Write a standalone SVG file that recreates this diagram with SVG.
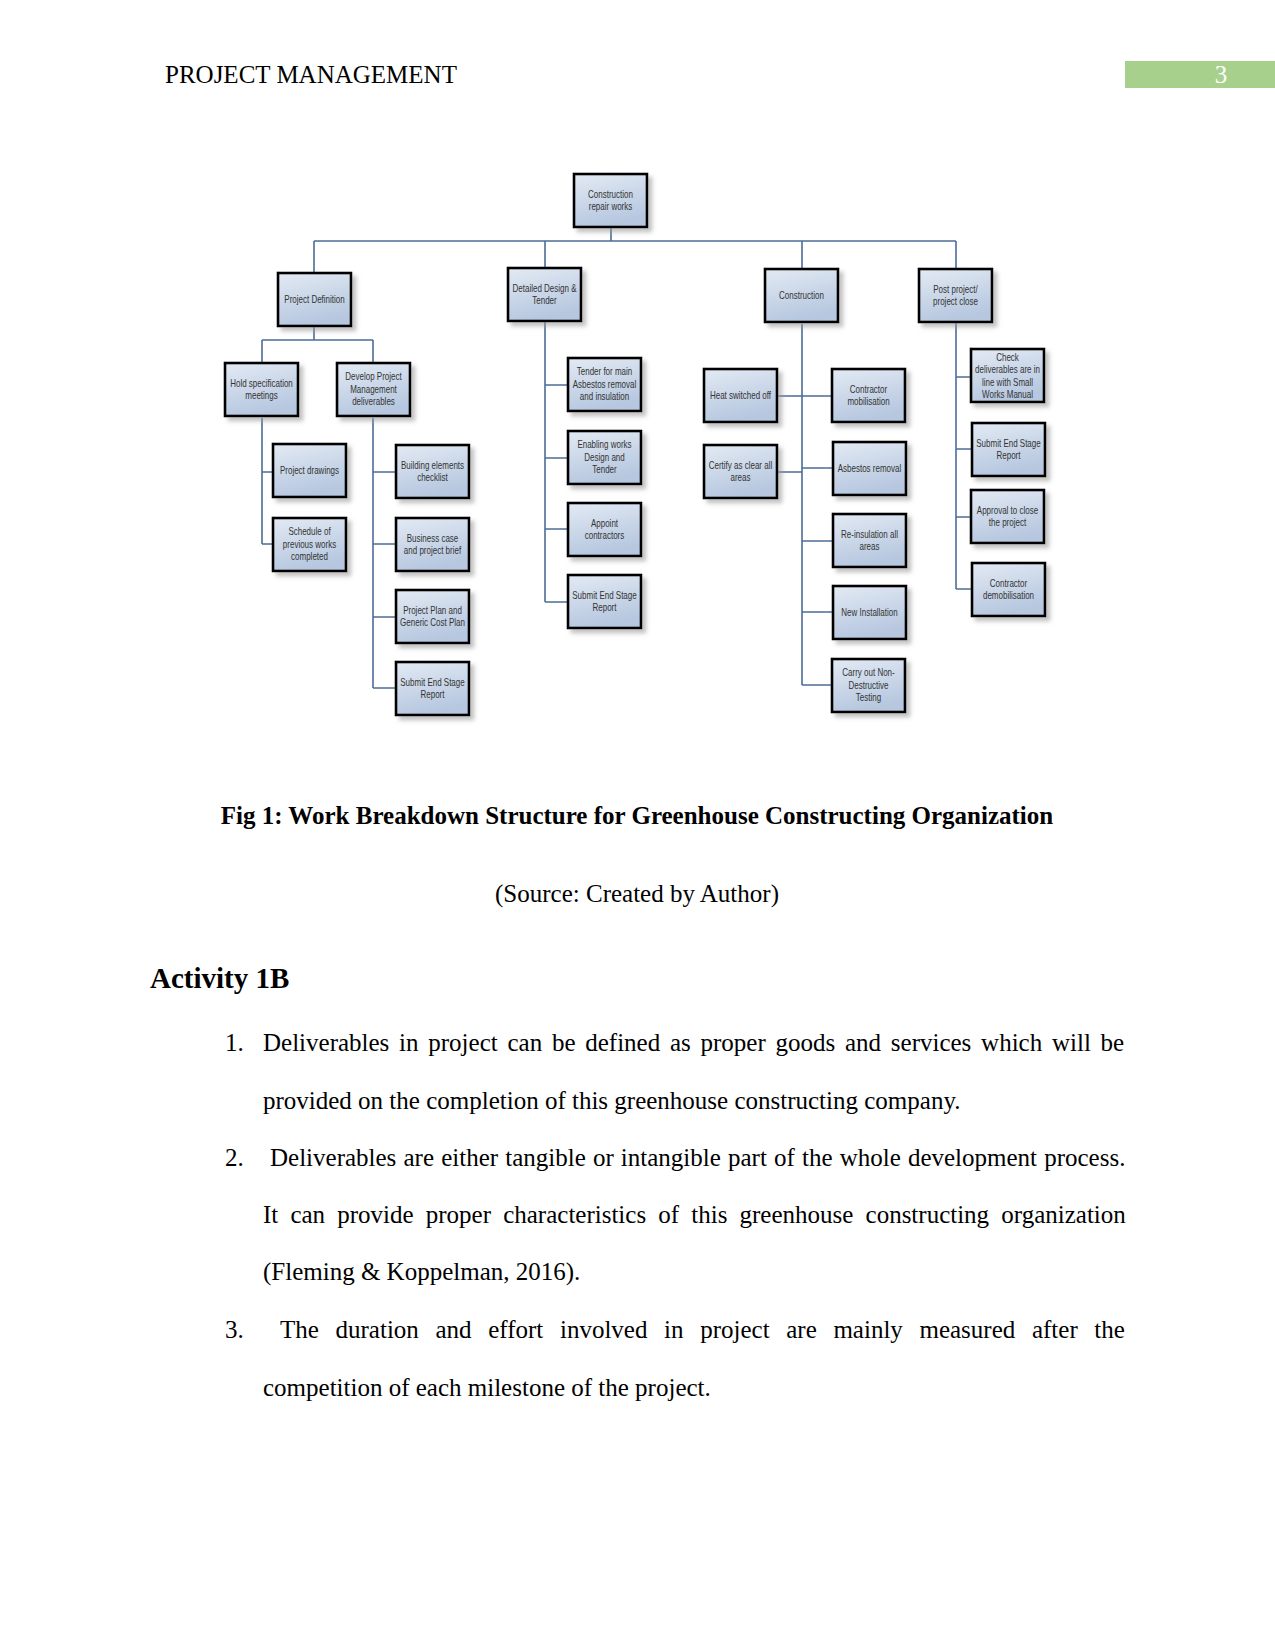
<svg xmlns="http://www.w3.org/2000/svg" width="1275" height="1650" viewBox="0 0 1275 1650">
<defs>
<linearGradient id="boxfill" x1="0" y1="0" x2="0.3" y2="1">
<stop offset="0" stop-color="#e3eaf4"/>
<stop offset="1" stop-color="#b6c7df"/>
</linearGradient>
<filter id="shadow" x="-20%" y="-20%" width="150%" height="150%">
<feDropShadow dx="4" dy="4" stdDeviation="2" flood-color="#9a9a9a" flood-opacity="0.6"/>
</filter>
<style>
.box{fill:url(#boxfill);stroke:#000;stroke-width:2.6;filter:url(#shadow);}
.lbl{font-family:"Liberation Sans",Arial,sans-serif;font-size:10px;fill:#333;text-anchor:middle;}
.con{fill:none;stroke:#4d6d96;stroke-width:1.6;}
.body{font-family:"Liberation Serif","Times New Roman",serif;font-size:25px;fill:#000;}
.bold{font-weight:bold;}
</style>
</defs>
<rect x="0" y="0" width="1275" height="1650" fill="#fff"/>
<text class="body" x="165" y="83">PROJECT MANAGEMENT</text>
<rect x="1125" y="61" width="150" height="27" fill="#a8d08d"/>
<text class="body" x="1221" y="83" style="fill:#fff" text-anchor="middle">3</text>

<g id="connectors">
<path class="con" d="M611 228V241M314 241H956M314 241V272M545 241V267M802 241V268M956 241V268"/>
<path class="con" d="M314 327V340M262 340H373M262 340V362M373 340V362"/>
<path class="con" d="M262 418V544M262 472H272M262 544H272"/>
<path class="con" d="M373 418V688M373 472H395M373 544H395M373 617H395M373 688H395"/>
<path class="con" d="M545 322V602M545 385H567M545 458H567M545 529H567M545 602H567"/>
<path class="con" d="M802 324V685M778 396H831M778 472H802M802 468H832M802 541H832M802 612H832M802 685H831"/>
<path class="con" d="M956 323V589M956 377H970M956 449H971M956 517H970M956 589H971"/>
</g>

<g id="n-root"><rect class="box" x="574" y="174" width="73" height="53"/><text class="lbl" transform="translate(610.5 0) scale(0.8 1)"><tspan x="0" y="197.75">Construction</tspan><tspan x="0" y="210.25">repair works</tspan></text></g>
<g id="n-projdef"><rect class="box" x="278" y="273" width="73" height="53"/><text class="lbl" transform="translate(314.5 0) scale(0.8 1)"><tspan x="0" y="303">Project Definition</tspan></text></g>
<g id="n-design"><rect class="box" x="508" y="268" width="73" height="53"/><text class="lbl" transform="translate(544.5 0) scale(0.8 1)"><tspan x="0" y="291.75">Detailed Design &amp;</tspan><tspan x="0" y="304.25">Tender</tspan></text></g>
<g id="n-construction"><rect class="box" x="765" y="269" width="73" height="53"/><text class="lbl" transform="translate(801.5 0) scale(0.8 1)"><tspan x="0" y="299">Construction</tspan></text></g>
<g id="n-post"><rect class="box" x="919" y="269" width="73" height="53"/><text class="lbl" transform="translate(955.5 0) scale(0.8 1)"><tspan x="0" y="292.75">Post project/</tspan><tspan x="0" y="305.25">project close</tspan></text></g>

<g id="n-hold"><rect class="box" x="225" y="363" width="73" height="53"/><text class="lbl" transform="translate(261.5 0) scale(0.8 1)"><tspan x="0" y="386.75">Hold specification</tspan><tspan x="0" y="399.25">meetings</tspan></text></g>
<g id="n-develop"><rect class="box" x="337" y="363" width="73" height="53"/><text class="lbl" transform="translate(373.5 0) scale(0.8 1)"><tspan x="0" y="380.5">Develop Project</tspan><tspan x="0" y="393">Management</tspan><tspan x="0" y="405.5">deliverables</tspan></text></g>
<g id="n-drawings"><rect class="box" x="273" y="444" width="73" height="53"/><text class="lbl" transform="translate(309.5 0) scale(0.8 1)"><tspan x="0" y="474">Project drawings</tspan></text></g>
<g id="n-schedule"><rect class="box" x="273" y="518" width="73" height="53"/><text class="lbl" transform="translate(309.5 0) scale(0.8 1)"><tspan x="0" y="535.5">Schedule of</tspan><tspan x="0" y="548">previous works</tspan><tspan x="0" y="560.5">completed</tspan></text></g>
<g id="n-building"><rect class="box" x="396" y="445" width="73" height="53"/><text class="lbl" transform="translate(432.5 0) scale(0.8 1)"><tspan x="0" y="468.75">Building elements</tspan><tspan x="0" y="481.25">checklist</tspan></text></g>
<g id="n-business"><rect class="box" x="396" y="518" width="73" height="53"/><text class="lbl" transform="translate(432.5 0) scale(0.8 1)"><tspan x="0" y="541.75">Business case</tspan><tspan x="0" y="554.25">and project brief</tspan></text></g>
<g id="n-plan"><rect class="box" x="396" y="590" width="73" height="53"/><text class="lbl" transform="translate(432.5 0) scale(0.8 1)"><tspan x="0" y="613.75">Project Plan and</tspan><tspan x="0" y="626.25">Generic Cost Plan</tspan></text></g>
<g id="n-submit1"><rect class="box" x="396" y="662" width="73" height="53"/><text class="lbl" transform="translate(432.5 0) scale(0.8 1)"><tspan x="0" y="685.75">Submit End Stage</tspan><tspan x="0" y="698.25">Report</tspan></text></g>

<g id="n-tender"><rect class="box" x="568" y="358" width="73" height="53"/><text class="lbl" transform="translate(604.5 0) scale(0.8 1)"><tspan x="0" y="375.5">Tender for main</tspan><tspan x="0" y="388">Asbestos removal</tspan><tspan x="0" y="400.5">and insulation</tspan></text></g>
<g id="n-enabling"><rect class="box" x="568" y="431" width="73" height="53"/><text class="lbl" transform="translate(604.5 0) scale(0.8 1)"><tspan x="0" y="448.5">Enabling works</tspan><tspan x="0" y="461">Design and</tspan><tspan x="0" y="473.5">Tender</tspan></text></g>
<g id="n-appoint"><rect class="box" x="568" y="503" width="73" height="53"/><text class="lbl" transform="translate(604.5 0) scale(0.8 1)"><tspan x="0" y="526.75">Appoint</tspan><tspan x="0" y="539.25">contractors</tspan></text></g>
<g id="n-submit2"><rect class="box" x="568" y="575" width="73" height="53"/><text class="lbl" transform="translate(604.5 0) scale(0.8 1)"><tspan x="0" y="598.75">Submit End Stage</tspan><tspan x="0" y="611.25">Report</tspan></text></g>

<g id="n-heat"><rect class="box" x="704" y="369" width="73" height="53"/><text class="lbl" transform="translate(740.5 0) scale(0.8 1)"><tspan x="0" y="399">Heat switched off</tspan></text></g>
<g id="n-certify"><rect class="box" x="704" y="445" width="73" height="53"/><text class="lbl" transform="translate(740.5 0) scale(0.8 1)"><tspan x="0" y="468.75">Certify as clear all</tspan><tspan x="0" y="481.25">areas</tspan></text></g>
<g id="n-mobilisation"><rect class="box" x="832" y="369" width="73" height="53"/><text class="lbl" transform="translate(868.5 0) scale(0.8 1)"><tspan x="0" y="392.75">Contractor</tspan><tspan x="0" y="405.25">mobilisation</tspan></text></g>
<g id="n-asbestos"><rect class="box" x="833" y="442" width="73" height="53"/><text class="lbl" transform="translate(869.5 0) scale(0.8 1)"><tspan x="0" y="472">Asbestos removal</tspan></text></g>
<g id="n-reinsulation"><rect class="box" x="833" y="514" width="73" height="53"/><text class="lbl" transform="translate(869.5 0) scale(0.8 1)"><tspan x="0" y="537.75">Re-insulation all</tspan><tspan x="0" y="550.25">areas</tspan></text></g>
<g id="n-newinstall"><rect class="box" x="833" y="586" width="73" height="53"/><text class="lbl" transform="translate(869.5 0) scale(0.8 1)"><tspan x="0" y="616">New Installation</tspan></text></g>
<g id="n-ndt"><rect class="box" x="832" y="659" width="73" height="53"/><text class="lbl" transform="translate(868.5 0) scale(0.8 1)"><tspan x="0" y="676.5">Carry out Non-</tspan><tspan x="0" y="689">Destructive</tspan><tspan x="0" y="701.5">Testing</tspan></text></g>

<g id="n-check"><rect class="box" x="971" y="349" width="73" height="53"/><text class="lbl" transform="translate(1007.5 0) scale(0.8 1)"><tspan x="0" y="361">Check</tspan><tspan x="0" y="373.3">deliverables are in</tspan><tspan x="0" y="385.6">line with Small</tspan><tspan x="0" y="398">Works Manual</tspan></text></g>
<g id="n-submit3"><rect class="box" x="972" y="423" width="73" height="53"/><text class="lbl" transform="translate(1008.5 0) scale(0.8 1)"><tspan x="0" y="446.75">Submit End Stage</tspan><tspan x="0" y="459.25">Report</tspan></text></g>
<g id="n-approval"><rect class="box" x="971" y="490" width="73" height="53"/><text class="lbl" transform="translate(1007.5 0) scale(0.8 1)"><tspan x="0" y="513.75">Approval to close</tspan><tspan x="0" y="526.25">the project</tspan></text></g>
<g id="n-demob"><rect class="box" x="972" y="563" width="73" height="53"/><text class="lbl" transform="translate(1008.5 0) scale(0.8 1)"><tspan x="0" y="586.75">Contractor</tspan><tspan x="0" y="599.25">demobilisation</tspan></text></g>

<text class="body bold" x="637" y="824" text-anchor="middle">Fig 1: Work Breakdown Structure for Greenhouse Constructing Organization</text>
<text class="body" x="637" y="902" text-anchor="middle">(Source: Created by Author)</text>
<text class="body bold" x="150" y="988" style="font-size:29px">Activity 1B</text>

<text class="body" x="225" y="1051">1.</text>
<text class="body" x="263" y="1051" word-spacing="3.5">Deliverables in project can be defined as proper goods and services which will be</text>
<text class="body" x="263" y="1109">provided on the completion of this greenhouse constructing company.</text>
<text class="body" x="225" y="1166">2.</text>
<text class="body" x="270" y="1166" word-spacing="0.9">Deliverables are either tangible or intangible part of the whole development process.</text>
<text class="body" x="263" y="1223" word-spacing="5.9">It can provide proper characteristics of this greenhouse constructing organization</text>
<text class="body" x="263" y="1280">(Fleming &amp; Koppelman, 2016).</text>
<text class="body" x="225" y="1338">3.</text>
<text class="body" x="280" y="1338" word-spacing="10.4">The duration and effort involved in project are mainly measured after the</text>
<text class="body" x="263" y="1396">competition of each milestone of the project.</text>
</svg>
